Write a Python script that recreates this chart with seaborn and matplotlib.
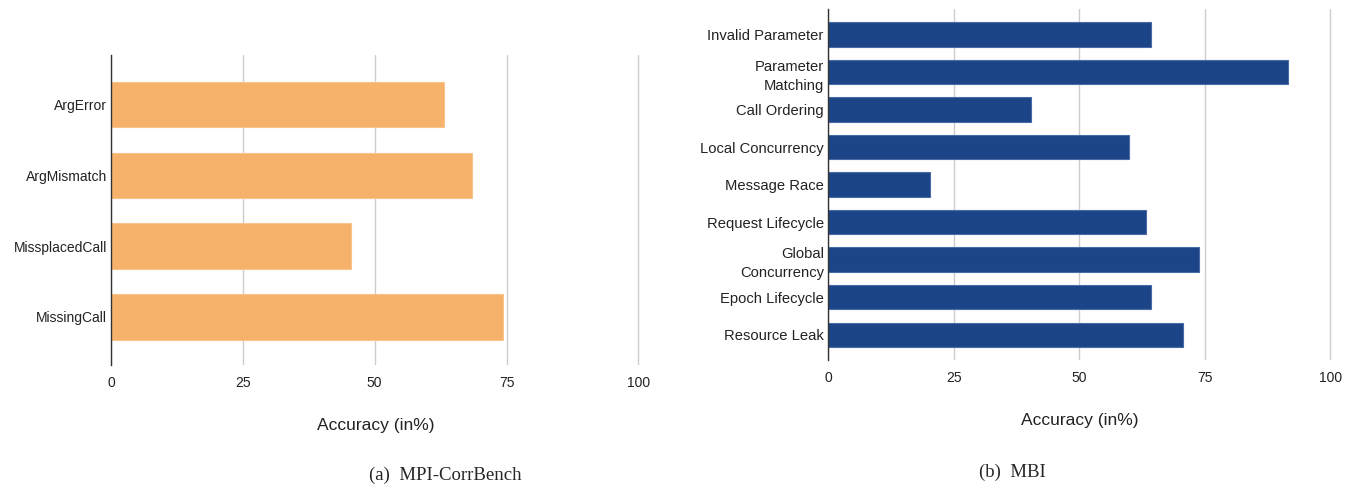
import matplotlib
matplotlib.use('Agg')
import seaborn as sns
import matplotlib.pyplot as plt

# dados
corr_cats = ['ArgError', 'ArgMismatch', 'MissplacedCall', 'MissingCall']
corr_vals = [63.1, 68.5, 45.6, 74.4]

mbi_cats = ['Invalid Parameter', 'Parameter\nMatching', 'Call Ordering', 'Local Concurrency',
            'Message Race', 'Request Lifecycle', 'Global\nConcurrency', 'Epoch Lifecycle',
            'Resource Leak']
mbi_vals = [64.2, 91.6, 40.4, 59.9, 20.4, 63.3, 73.9, 64.2, 70.7]

x_ticks = [0, 25, 50, 75, 100]

sns.set_theme(style='white')
plt.rcParams['font.family'] = ['Liberation Sans', 'DejaVu Sans']

fig = plt.figure(figsize=(13.56, 4.87), dpi=100)
ax1 = fig.add_axes([0.0819, 0.2505, 0.390, 0.637])
ax2 = fig.add_axes([0.6106, 0.261, 0.3717, 0.7205])


def style_axis(ax, ylim, ysize):
    ax.set_xlim(0, 100.3)
    ax.set_ylim(*ylim)
    ax.set_xticks(x_ticks)
    ax.set_xticklabels([str(t) for t in x_ticks])
    ax.grid(axis='x', color='#cccccc', linewidth=1)
    ax.grid(axis='y', visible=False)
    ax.set_axisbelow(True)
    for s in ['top', 'right', 'bottom']:
        ax.spines[s].set_visible(False)
    ax.spines['left'].set_color('#333333')
    ax.spines['left'].set_linewidth(1)
    ax.tick_params(axis='x', length=0, labelsize=10, colors='#222222', pad=8)
    ax.tick_params(axis='y', length=0, labelsize=ysize, colors='#222222', pad=3)
    for lab in ax.get_yticklabels():
        lab.set_linespacing(1.45)
    ax.set_ylabel('')
    ax.set_xlabel('Accuracy (in%)', fontsize=12.5, color='#222222', labelpad=20)


sns.barplot(x=corr_vals, y=corr_cats, color='#f6b26b', saturation=1, width=0.64,
            edgecolor='#f8c48c', linewidth=0.8, ax=ax1)
style_axis(ax1, (3.68, -0.70), 10)

sns.barplot(x=mbi_vals, y=mbi_cats, color='#1c4587', saturation=1, width=0.65,
            edgecolor='#4a6aa8', linewidth=0.8, ax=ax2)
style_axis(ax2, (8.67, -0.68), 10.6)

fig.text(445 / 1356, 1 - 475 / 487, '(a)  MPI-CorrBench', ha='center', va='center',
         fontsize=13.5, family=['Liberation Serif', 'DejaVu Serif'])
fig.text(1012 / 1356, 1 - 472 / 487, '(b)  MBI', ha='center', va='center',
         fontsize=13.5, family=['Liberation Serif', 'DejaVu Serif'])

fig.savefig('out.png', dpi=100)
